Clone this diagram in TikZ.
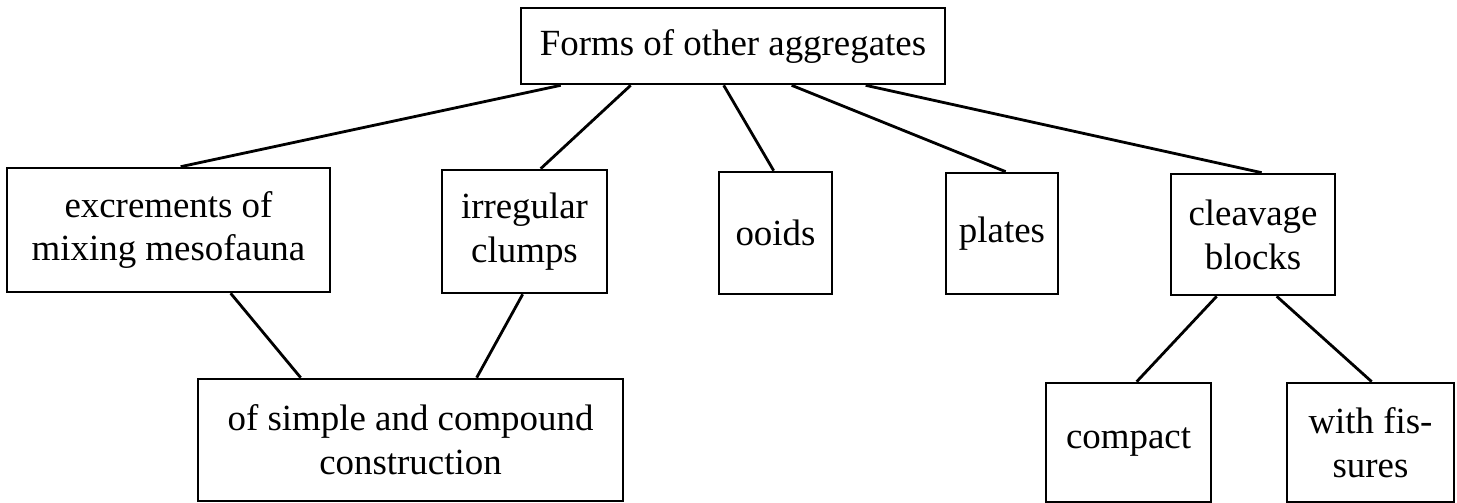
\documentclass[tikz,border=0pt]{standalone}
\usepackage{fontspec}
\setmainfont{Liberation Serif}
\begin{document}
\begin{tikzpicture}[x=0.02cm,y=-0.02cm,
  box/.style={draw, line width=1.5pt, inner sep=0pt, align=center,
    font=\fontsize{21}{25}\selectfont},
  link/.style={line width=1.6pt}]
\fill[white] (0,0) rectangle (1457,503);
\useasboundingbox (0,0) rectangle (1457,503);

% root
\node[box, minimum width=8.48cm, minimum height=1.52cm] (top) at (733,46) {Forms of other aggregates};

% first level
\node[box, minimum width=6.46cm, minimum height=2.48cm] (exc) at (168.5,230) {excrements of\\mixing mesofauna};
\node[box, minimum width=3.3cm, minimum height=2.46cm] (irr) at (524.5,231.5) {irregular\\clumps};
\node[box, minimum width=2.26cm, minimum height=2.44cm] (ooids) at (775.5,233) {ooids};
\node[box, minimum width=2.24cm, minimum height=2.42cm] (plates) at (1002,233.5) {plates};
\node[box, minimum width=3.28cm, minimum height=2.42cm] (cleav) at (1253,234.5) {cleavage\\blocks};

% second level
\node[box, minimum width=8.5cm, minimum height=2.44cm] (simple) at (410.5,440) {of simple and compound\\construction};
\node[box, minimum width=3.3cm, minimum height=2.38cm] (compact) at (1128.5,442.5) {compact};
\node[box, minimum width=3.34cm, minimum height=2.38cm] (fiss) at (1370.5,442.5) {with fis-\\sures};

% connectors
\draw[link] ([xshift=0.82cm]top.south west) -- ([xshift=3.5cm]exc.north west);
\draw[link] ([xshift=2.22cm]top.south west) -- ([xshift=2.0cm]irr.north west);
\draw[link] ([xshift=4.08cm]top.south west) -- ([xshift=1.12cm]ooids.north west);
\draw[link] ([xshift=5.44cm]top.south west) -- ([xshift=1.22cm]plates.north west);
\draw[link] ([xshift=6.92cm]top.south west) -- ([xshift=1.84cm]cleav.north west);
\draw[link] ([xshift=4.5cm]exc.south west) -- ([xshift=2.08cm]simple.north west);
\draw[link] ([xshift=1.64cm]irr.south west) -- ([xshift=5.6cm]simple.north west);
\draw[link] ([xshift=0.94cm]cleav.south west) -- ([xshift=1.84cm]compact.north west);
\draw[link] ([xshift=2.14cm]cleav.south west) -- ([xshift=1.72cm]fiss.north west);
\end{tikzpicture}
\end{document}
